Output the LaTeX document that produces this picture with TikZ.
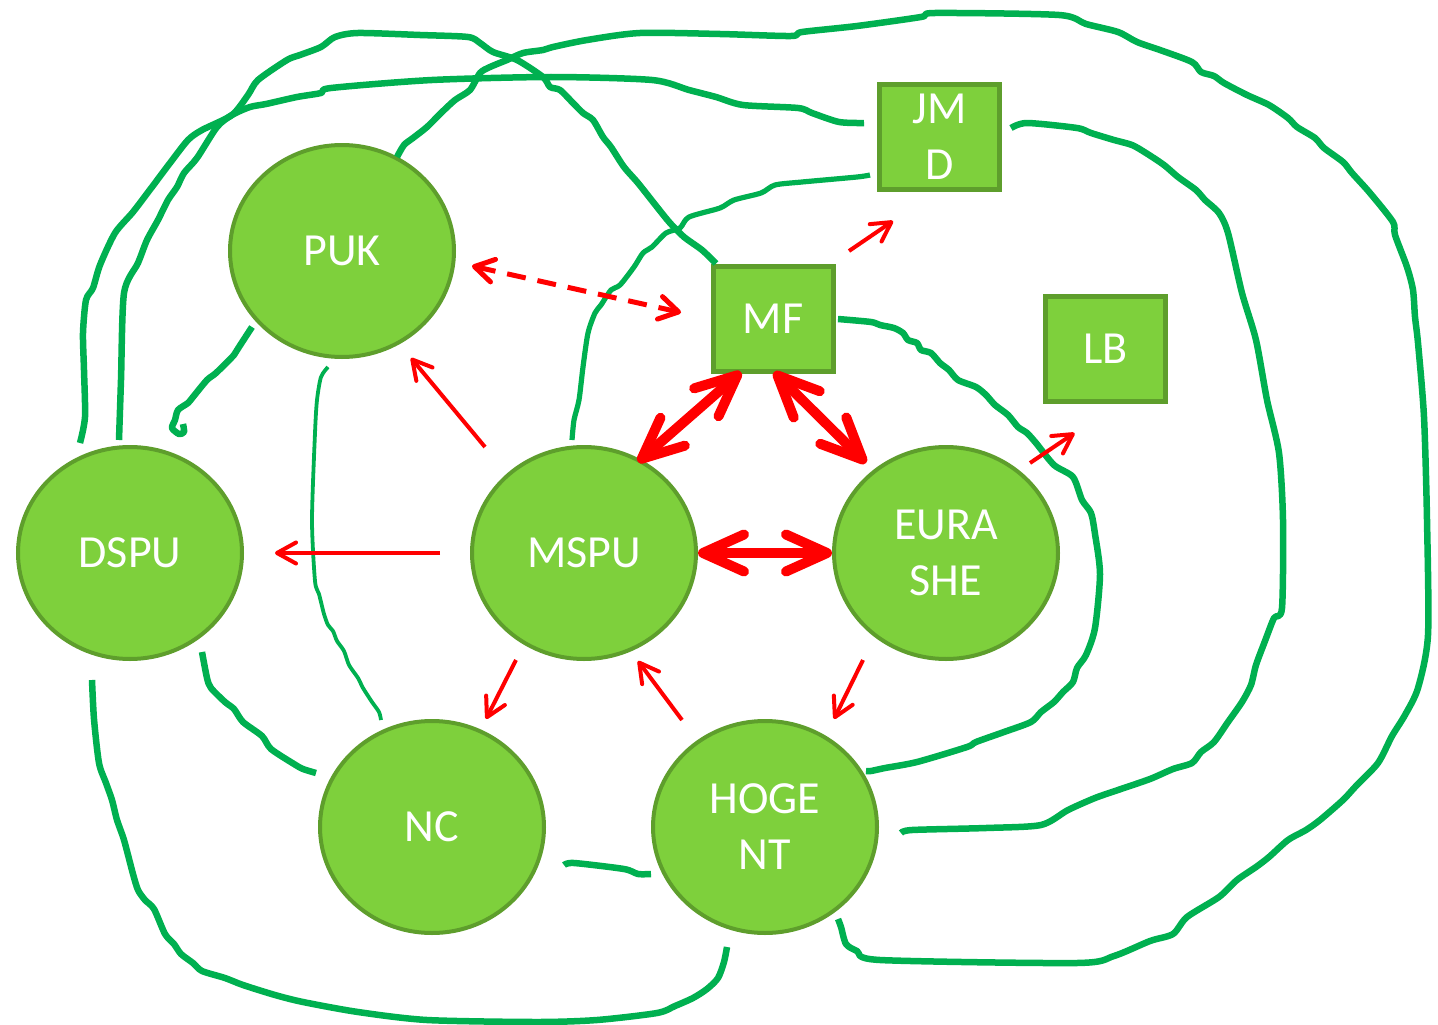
\documentclass[tikz,border=0pt]{standalone}
\usepackage{fontspec}
\setmainfont{Carlito}
\usetikzlibrary{shapes.geometric,arrows.meta}
\definecolor{nodefill}{RGB}{126,208,60}
\definecolor{nodeedge}{RGB}{94,158,44}
\definecolor{linkgreen}{RGB}{0,176,80}
\begin{document}
\begin{tikzpicture}[x=1pt,y=-1pt,
  ell/.style={ellipse,draw=nodeedge,fill=nodefill,line width=4pt,minimum width=224pt,minimum height=212pt,inner sep=0pt,text=white,font=\fontsize{46}{56}\selectfont,align=center},
  sq/.style={rectangle,draw=nodeedge,fill=nodefill,line width=5pt,minimum width=120pt,minimum height=105pt,inner sep=0pt,text=white,font=\fontsize{46}{56}\selectfont,align=center},
  link/.style={draw=linkgreen,line width=6.5pt,line cap=butt,line join=round},
  linkmid/.style={link,line width=5.2pt},
  linkthin/.style={link,line width=3.8pt},
  redthin/.style={draw=red,line width=4pt,-{Straight Barb[length=19pt,width=21pt,round]}},
  reddash/.style={draw=red,line width=5pt,dash pattern=on 19pt off 12pt,{Straight Barb[length=19pt,width=23pt,round]}-{Straight Barb[length=19pt,width=23pt,round]}},
  redthick/.style={draw=red,line width=10pt,{Straight Barb[length=41pt,width=37pt,round]}-{Straight Barb[length=41pt,width=37pt,round]}},
  smoothline/.style={smooth,tension=0.45}
]
\useasboundingbox (0,0) rectangle (1438,1025);

% nodes
\node[ell] (PUK)  at (342,251) {PUK};
\node[ell] (DSPU) at (130,553) {DSPU};
\node[ell] (MSPU) at (584,553) {MSPU};
\node[ell] (EUR)  at (946,553) {EURA\\SHE};
\node[ell] (NC)   at (432,827) {NC};
\node[ell] (HOG)  at (765,827) {HOGE\\NT};
\node[sq] (JMD) at (939.5,137) {JM\\D};
\node[sq] (MF)  at (773,318.5) {MF};
\node[sq] (LB)  at (1105.5,348.5) {LB};

% end points of the green links
\coordinate (a0) at ([shift={(-50,-110)}]DSPU.center);
\coordinate (a1) at ([shift={(-57,-55)}]MF.center);
\coordinate (b0) at ([shift={(-11,-113)}]DSPU.center);
\coordinate (b1) at ([shift={(-75.5,-14)}]JMD.center);
\coordinate (c0) at ([shift={(55,-94)}]PUK.center);
\coordinate (c1) at ([shift={(73,92)}]HOG.center);
\coordinate (d0) at ([shift={(71.5,-9)}]JMD.center);
\coordinate (d1) at ([shift={(136,6)}]HOG.center);
\coordinate (e0) at ([shift={(65,0.5)}]MF.center);
\coordinate (e1) at ([shift={(101,-56)}]HOG.center);
\coordinate (f0) at ([shift={(-12,-113)}]MSPU.center);
\coordinate (f1) at ([shift={(-69.5,38)}]JMD.center);
\coordinate (g0) at ([shift={(-90,76)}]PUK.center);
\coordinate (g1) at ([shift={(53,-129)}]DSPU.center);
\coordinate (h0) at ([shift={(-14,116)}]PUK.center);
\coordinate (h1) at ([shift={(-51,-107)}]NC.center);
\coordinate (i0) at ([shift={(72,99)}]DSPU.center);
\coordinate (i1) at ([shift={(-116,-54)}]NC.center);
\coordinate (j0) at ([shift={(132,38)}]NC.center);
\coordinate (j1) at ([shift={(-114,47)}]HOG.center);
\coordinate (k0) at ([shift={(-38,127)}]DSPU.center);
\coordinate (k1) at ([shift={(-38,120)}]HOG.center);

% green links
\draw[link] plot[smoothline] coordinates {(a0) (85,417) (84,370) (83,333) (86,300) (93,288) (100,265) (115,233) (133,212) (152,187) (170,163) (188,140) (202,130) (232,115) (248,95) (258,80) (287,60) (300,55) (321,47) (335,37) (358,33) (420,35) (468,37) (480,43) (493,52) (517,60) (543,77) (550,87) (560,90) (573,103) (583,113) (593,120) (603,137) (611,147) (624,167) (638,183) (657,207) (670,223) (684,237) (702,250) (a1)};

\draw[link] plot[smoothline] coordinates {(b0) (121,380) (124,293) (138,263) (147,240) (158,220) (168,200) (177,187) (184,173) (197,158) (217,127) (232,115) (250,107) (266,104) (297,97) (321,93) (331,88) (432,80) (551,77) (652,80) (689,90) (716,97) (743,105) (798,108) (812,113) (839,122) (b1)};

\draw[link] plot[smoothline] coordinates {(c0) (404,145) (413,138) (427,127) (441,113) (455,100) (470,90) (480,73) (490,67) (507,60) (523,53) (543,50) (553,47) (587,40) (640,33) (720,34) (791,36) (802,32) (857,26) (921,17) (935,13) (1059,15) (1086,24) (1118,32) (1137,42) (1160,50) (1192,62) (1201,72) (1214,76) (1224,83) (1247,95) (1269,105) (1288,118) (1297,127) (1315,138) (1324,148) (1343,162) (1352,173) (1370,193) (1393,222) (1395,235) (1407,267) (1413,290) (1415,317) (1418,343) (1424,417) (1427,520) (1428,635) (1418,688) (1405,715) (1392,736) (1378,763) (1356,786) (1343,800) (1320,820) (1306,830) (1288,840) (1269,857) (1256,867) (1237,880) (1219,897) (1187,917) (1173,934) (1150,941) (1114,956) (1077,963) (880,960) (857,951) (846,944) (841,927) (c1)};

\draw[link] plot[smoothline] coordinates {(d0) (1027,123) (1077,128) (1091,133) (1114,140) (1132,145) (1146,153) (1164,165) (1178,177) (1196,190) (1205,200) (1219,213) (1228,233) (1242,293) (1256,340) (1267,400) (1279,453) (1283,520) (1282,608) (1274,618) (1265,641) (1256,665) (1251,685) (1242,702) (1228,722) (1214,742) (1201,752) (1192,763) (1173,769) (1150,779) (1118,790) (1095,798) (1068,810) (1041,825) (986,828) (912,830) (d1)};

\draw[link] plot[smoothline] coordinates {(e0) (871,322) (880,325) (894,328) (903,333) (908,340) (917,343) (921,350) (931,353) (940,363) (949,370) (958,380) (976,387) (986,395) (995,405) (1008,415) (1018,427) (1027,433) (1036,443) (1054,465) (1073,477) (1082,500) (1091,513) (1095,534) (1100,574) (1095,628) (1086,655) (1077,668) (1073,682) (1063,692) (1054,702) (1041,712) (1031,722) (1004,732) (976,742) (967,747) (917,762) (885,768) (871,771) (e1)};

\draw[linkmid] plot[smoothline] coordinates {(f0) (574,420) (579,400) (583,367) (588,333) (595,313) (601,305) (611,290) (620,285) (634,267) (643,253) (652,247) (666,233) (680,228) (689,217) (720,208) (734,200) (761,193) (775,185) (802,182) (857,177) (f1)};

\draw[link] plot[smoothline] coordinates {(g0) (239,347) (234,355) (216,373) (207,380) (193,397) (188,403) (178,410) (175,420) (172,428) (179,434) (184,432) (g1)};

\draw[linkthin] plot[smoothline] coordinates {(h0) (321,377) (317,400) (315,433) (312,520) (315,581) (319,594) (324,614) (328,625) (333,631) (337,641) (344,651) (349,665) (358,678) (363,688) (372,702) (379,712) (h1)};

\draw[link] plot[smoothline] coordinates {(i0) (207,678) (211,688) (225,702) (234,709) (243,722) (262,736) (271,749) (294,764) (303,769) (i1)};

\draw[link] plot[smoothline] coordinates {(j0) (574,863) (624,869) (638,874) (j1)};

\draw[link] plot[smoothline] coordinates {(k0) (94,719) (99,763) (106,783) (112,800) (117,820) (124,840) (133,874) (138,890) (145,900) (154,909) (165,934) (174,944) (181,954) (193,963) (202,971) (225,978) (243,985) (275,995) (303,1002) (358,1012) (427,1020) (537,1022) (597,1020) (657,1013) (675,1006) (693,998) (707,989) (718,978) (724,962) (k1)};

% red arrows
\draw[reddash] ([shift={(130,15)}]PUK.center) -- ([shift={(-92,-6)}]MF.center);
\draw[redthin] ([shift={(76,-67.5)}]MF.center) -- ([shift={(-46.5,84)}]JMD.center);
\draw[redthin] ([shift={(-99,-106)}]MSPU.center) -- ([shift={(69,107)}]PUK.center);
\draw[redthin] ([shift={(-144,0)}]MSPU.center) -- ([shift={(145,0)}]DSPU.center);
\draw[redthin] ([shift={(-68,107)}]MSPU.center) -- ([shift={(54,-108)}]NC.center);
\draw[redthin] ([shift={(-83,-107)}]HOG.center) -- ([shift={(54,108)}]MSPU.center);
\draw[redthin] ([shift={(-83,107)}]EUR.center) -- ([shift={(69,-108)}]HOG.center);
\draw[redthin] ([shift={(84,-90)}]EUR.center) -- ([shift={(-31,84.5)}]LB.center);

\draw[redthick] ([shift={(-32,53.5)}]MF.center) -- ([shift={(54,-91)}]MSPU.center);
\draw[redthick] ([shift={(1,53.5)}]MF.center) -- ([shift={(-80,-90)}]EUR.center);
\draw[redthick] ([shift={(114,0)}]MSPU.center) -- ([shift={(-114,0)}]EUR.center);
\end{tikzpicture}
\end{document}
